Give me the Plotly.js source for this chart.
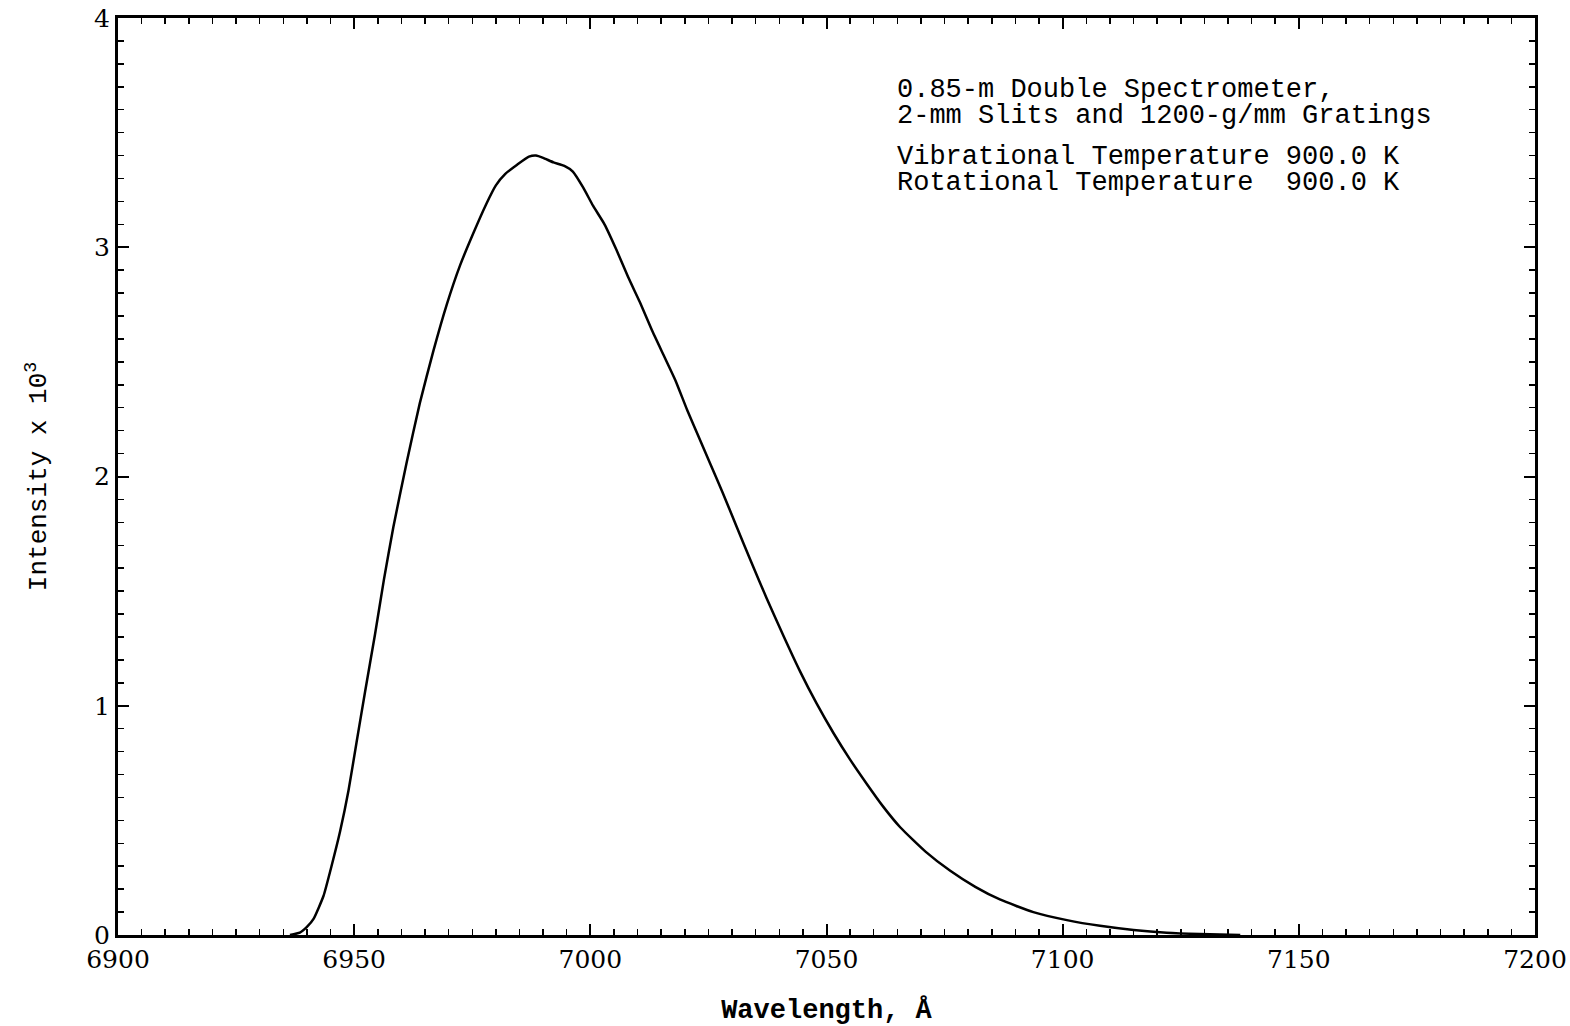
<!DOCTYPE html>
<html>
<head>
<meta charset="utf-8">
<script src="https://cdn.plot.ly/plotly-3.0.1.min.js"></script>
<style>
html,body{margin:0;padding:0;background:#fff;}
#chart{width:1570px;height:1026px;}
</style>
</head>
<body>
<div id="chart"></div>
<script>
// Wavelength (Angstrom) and intensity (x 10^3)
const wavelength = [6936.4, 6938.5, 6940.0, 6941.4, 6943.5, 6945.2, 6947.0, 6948.8, 6950.5, 6952.3,
  6954.4, 6956.3, 6958.3, 6961.1, 6963.9, 6966.8, 6969.6, 6972.4, 6975.2, 6978.0,
  6980.0, 6982.0, 6984.5, 6987.0, 6988.5, 6990.0, 6992.2, 6994.5, 6996.3, 6998.5,
  7000.6, 7003.0, 7005.5, 7008.0, 7010.5, 7013.0, 7015.5, 7018.0, 7020.5, 7023.0,
  7025.5, 7028.0, 7031.0, 7034.0, 7037.3, 7041.0, 7044.4, 7047.9, 7051.5, 7055.0,
  7058.5, 7062.0, 7065.6, 7070.9, 7076.2, 7081.5, 7086.7, 7093.8, 7100.9, 7107.9,
  7115.0, 7122.0, 7129.0, 7137.6];
const intensity = [0.0, 0.01, 0.035, 0.07, 0.17, 0.30, 0.45, 0.63, 0.84, 1.06,
  1.31, 1.55, 1.78, 2.06, 2.32, 2.55, 2.75, 2.92, 3.06, 3.19,
  3.27, 3.32, 3.36, 3.395, 3.40, 3.39, 3.37, 3.355, 3.33, 3.26,
  3.18, 3.10, 2.99, 2.87, 2.76, 2.64, 2.53, 2.42, 2.29, 2.17,
  2.05, 1.93, 1.78, 1.63, 1.47, 1.30, 1.15, 1.01, 0.88, 0.765,
  0.66, 0.56, 0.47, 0.365, 0.28, 0.21, 0.155, 0.10, 0.065, 0.04,
  0.022, 0.01, 0.004, 0.0];
const xTickVals = [6900, 6950, 7000, 7050, 7100, 7150, 7200];
const yTickVals = [0, 1, 2, 3, 4];
const infoLines = [
  "0.85-m Double Spectrometer,",
  "2-mm Slits and 1200-g/mm Gratings",
  "Vibrational Temperature 900.0 K",
  "Rotational Temperature\u00a0\u00a0900.0 K"
];

const mono = "Liberation Mono, Courier New, monospace";
const serif = "DejaVu Serif, serif";

const trace = {
  x: wavelength, y: intensity, type: 'scatter', mode: 'lines',
  line: {color: '#000', width: 2.5, shape: 'spline', smoothing: 0.5},
  hoverinfo: 'skip', showlegend: false
};

const infoY = [0.9215, 0.893, 0.848, 0.820];
const annotations = infoLines.map((t, i) => ({
  text: t, xref: 'paper', yref: 'paper', x: 0.548, y: infoY[i],
  xanchor: 'left', yanchor: 'middle', showarrow: false,
  font: {family: mono, size: 27, color: '#000'}
}));

const layout = {
  width: 1570, height: 1026,
  margin: {l: 118, r: 35, t: 18, b: 91},
  paper_bgcolor: '#fff', plot_bgcolor: '#fff',
  showlegend: false,
  xaxis: {
    range: [6900, 7200], tickvals: xTickVals, ticktext: xTickVals.map(String),
    ticks: 'inside', ticklen: 11, tickwidth: 2, tickcolor: '#000',
    minor: {dtick: 5, tick0: 6900, ticks: 'inside', ticklen: 6, tickwidth: 1.5, tickcolor: '#000', showgrid: false},
    showline: true, linecolor: '#000', linewidth: 3, mirror: 'allticks',
    showgrid: false, zeroline: false,
    tickfont: {family: serif, size: 25, color: '#000'},
    title: {text: 'Wavelength, Å', standoff: 28, font: {family: mono, size: 27, color: '#000', weight: 'bold'}}
  },
  yaxis: {
    range: [0, 4], tickvals: yTickVals, ticktext: yTickVals.map(String),
    ticks: 'inside', ticklen: 11, tickwidth: 2, tickcolor: '#000',
    minor: {dtick: 0.1, tick0: 0, ticks: 'inside', ticklen: 6, tickwidth: 1.5, tickcolor: '#000', showgrid: false},
    showline: true, linecolor: '#000', linewidth: 3, mirror: 'allticks',
    showgrid: false, zeroline: false,
    tickfont: {family: serif, size: 25, color: '#000'},
    title: {text: 'Intensity x 10<sup>3</sup>', standoff: 40, font: {family: mono, size: 26, color: '#000'}}
  },
  annotations: annotations
};

Plotly.newPlot('chart', [trace], layout, {staticPlot: true, displayModeBar: false});
</script>
</body>
</html>
